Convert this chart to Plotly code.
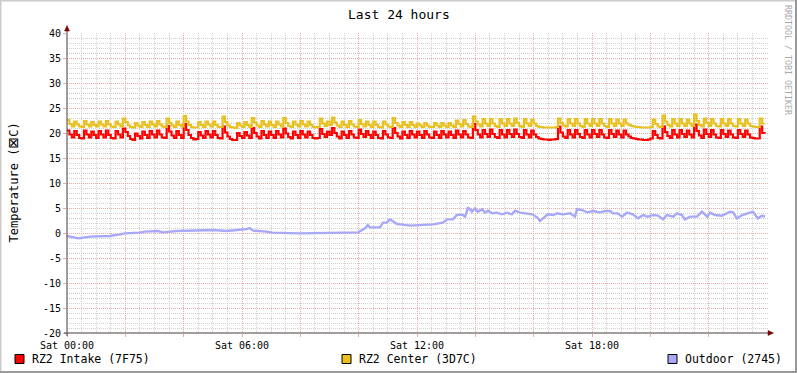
import plotly.graph_objects as go
import pandas as pd

# ---------------- data ----------------
day = "2024-01-06"  # a Saturday
series_names = ["RZ2 Intake (7F75)", "RZ2 Center (3D7C)", "Outdoor (2745)"]
series_colors = ["#FF0000", "#E8C020", "#A8A8FA"]

# 5-minute samples, one row per hour (00..23)
intake = [
    20.5, 19.7, 19.1, 20.4, 19.6, 19.0, 18.9, 20.5, 19.7, 19.1, 20.3, 19.6,
    19.0, 20.4, 19.7, 19.1, 20.5, 19.6, 19.0, 18.9, 20.4, 19.7, 19.1, 20.9,
    20.2, 19.4, 18.8, 18.6, 19.9, 19.4, 18.9, 20.3, 19.6, 19.0, 20.4, 19.7,
    19.1, 20.5, 19.7, 19.1, 19.0, 21.4, 20.3, 19.5, 19.0, 20.4, 19.6, 19.0,
    21.8, 20.6, 19.6, 19.0, 18.7, 18.8, 20.2, 19.5, 19.0, 20.4, 19.7, 19.1,
    20.4, 19.6, 19.0, 18.9, 21.3, 20.1, 19.3, 18.8, 18.6, 18.6, 20.0, 19.4,
    19.0, 20.2, 19.5, 19.0, 21.0, 20.0, 19.3, 18.9, 20.4, 19.6, 19.0, 20.3,
    19.6, 19.0, 20.4, 19.7, 19.1, 20.9, 19.9, 19.2, 18.9, 20.3, 19.6, 19.0,
    20.4, 19.7, 19.1, 20.3, 19.6, 19.0, 18.9, 19.0, 20.8, 19.8, 19.2, 20.3,
    19.6, 21.0, 20.0, 19.3, 18.9, 20.3, 19.6, 19.0, 20.4, 19.7, 19.1, 19.0,
    20.7, 19.8, 19.2, 20.4, 19.6, 19.0, 20.3, 19.6, 19.0, 18.9, 20.4, 19.7,
    19.1, 19.0, 21.0, 20.0, 19.3, 18.9, 20.3, 19.6, 19.0, 20.4, 19.7, 19.1,
    20.3, 19.6, 19.0, 20.4, 19.7, 19.1, 19.0, 20.3, 19.6, 19.0, 20.4, 19.7,
    19.1, 20.3, 19.6, 19.0, 20.5, 19.7, 19.1, 20.4, 19.7, 19.1, 19.0, 21.8,
    20.6, 19.7, 19.1, 20.6, 19.8, 19.2, 20.7, 19.8, 19.2, 19.0, 20.6, 19.7,
    19.1, 20.6, 19.8, 19.2, 20.7, 19.8, 19.2, 19.0, 20.6, 19.7, 19.1, 20.5,
    19.7, 19.2, 18.9, 18.8, 18.7, 18.7, 18.6, 18.7, 18.7, 18.8, 21.3, 20.1,
    19.3, 19.0, 20.6, 19.7, 19.1, 20.6, 19.8, 19.2, 19.0, 20.6, 19.7, 19.1,
    20.6, 19.8, 19.2, 20.6, 19.7, 19.1, 19.0, 20.6, 19.8, 19.2, 20.5, 19.7,
    19.1, 20.5, 19.7, 19.3, 19.0, 18.9, 18.8, 18.7, 18.7, 18.6, 18.6, 18.7,
    18.9, 20.4, 19.6, 19.0, 18.9, 21.3, 20.2, 19.4, 19.0, 20.6, 19.7, 19.1,
    20.6, 19.8, 19.2, 20.5, 19.7, 19.1, 21.7, 20.4, 19.5, 19.0, 20.7, 19.8,
    19.2, 20.6, 19.7, 19.1, 19.0, 20.6, 19.8, 19.2, 20.5, 19.7, 19.1, 19.0,
    20.6, 19.8, 19.2, 20.5, 19.7, 19.1, 19.0, 18.9, 18.9, 21.3, 20.0, 19.9,
]

center = [
    22.6, 21.8, 21.3, 22.3, 21.7, 21.3, 21.2, 22.4, 21.7, 21.3, 22.2, 21.6,
    21.3, 22.3, 21.7, 21.3, 22.4, 21.7, 21.3, 21.2, 22.3, 21.7, 21.3, 22.9,
    22.2, 21.5, 21.2, 21.1, 22.0, 21.5, 21.2, 22.2, 21.6, 21.2, 22.3, 21.7,
    21.3, 22.4, 21.7, 21.3, 21.2, 22.9, 22.0, 21.5, 21.2, 22.3, 21.6, 21.3,
    23.4, 22.3, 21.6, 21.2, 21.1, 21.1, 22.2, 21.6, 21.2, 22.3, 21.7, 21.3,
    22.3, 21.6, 21.2, 21.2, 23.3, 22.2, 21.5, 21.2, 21.1, 21.0, 22.0, 21.5,
    21.2, 22.2, 21.6, 21.2, 23.0, 22.1, 21.5, 21.2, 22.4, 21.7, 21.3, 22.3,
    21.6, 21.2, 22.3, 21.7, 21.3, 23.0, 22.0, 21.4, 21.2, 22.3, 21.7, 21.3,
    22.4, 21.7, 21.3, 22.3, 21.6, 21.2, 21.1, 21.2, 22.9, 21.9, 21.4, 22.3,
    21.6, 23.1, 22.1, 21.5, 21.2, 22.3, 21.6, 21.2, 22.4, 21.7, 21.3, 21.2,
    22.6, 21.8, 21.3, 22.3, 21.6, 21.2, 22.3, 21.6, 21.2, 21.1, 22.3, 21.7,
    21.3, 21.2, 23.0, 22.0, 21.5, 21.2, 22.2, 21.6, 21.2, 22.2, 21.6, 21.2,
    21.9, 21.5, 21.2, 22.0, 21.5, 21.2, 21.2, 22.0, 21.5, 21.2, 22.0, 21.5,
    21.2, 22.0, 21.5, 21.2, 22.5, 21.8, 21.3, 22.6, 21.8, 21.3, 21.2, 23.3,
    22.3, 21.7, 21.3, 22.8, 21.9, 21.4, 22.8, 21.9, 21.4, 21.2, 22.8, 21.9,
    21.4, 22.8, 21.9, 21.4, 22.9, 22.0, 21.4, 21.2, 22.8, 21.9, 21.4, 22.7,
    21.9, 21.4, 21.2, 21.2, 21.1, 21.1, 21.1, 21.1, 21.1, 21.2, 22.9, 22.0,
    21.5, 21.3, 22.8, 21.9, 21.4, 22.8, 21.9, 21.4, 21.2, 22.8, 21.9, 21.4,
    22.8, 21.9, 21.4, 22.8, 21.9, 21.4, 21.2, 22.8, 21.9, 21.4, 22.7, 21.9,
    21.4, 22.7, 21.9, 21.6, 21.4, 21.3, 21.2, 21.2, 21.1, 21.1, 21.1, 21.1,
    21.2, 22.7, 21.8, 21.3, 21.2, 23.5, 22.3, 21.6, 21.3, 22.8, 21.9, 21.4,
    22.8, 21.9, 21.4, 22.7, 21.9, 21.4, 23.7, 22.4, 21.6, 21.3, 22.9, 22.0,
    21.4, 22.8, 21.9, 21.4, 21.3, 22.8, 21.9, 21.4, 22.8, 21.9, 21.4, 21.3,
    22.8, 21.9, 21.4, 22.7, 21.9, 21.4, 21.3, 21.2, 21.2, 22.9, 21.9, 21.9,
]

outdoor_time = [
    "00:00", "00:23", "00:47", "01:28", "01:49", "01:59", "02:30", "02:40", "03:07", "03:17",
    "03:46", "04:27", "05:00", "05:29", "05:56", "06:10", "06:16", "06:23", "06:51", "07:02",
    "07:59", "09:07", "09:48", "09:59", "10:13", "10:19", "10:23", "10:44", "10:50", "10:58",
    "11:04", "11:11", "11:19", "11:25", "11:46", "12:33", "12:53", "13:02", "13:14", "13:22",
    "13:33", "13:39", "13:45", "13:53", "13:59", "14:05", "14:14", "14:20", "14:26", "14:34",
    "14:44", "14:55", "15:05", "15:15", "15:22", "15:32", "15:42", "15:57", "16:07", "16:13",
    "16:19", "16:29", "16:40", "16:48", "17:00", "17:15", "17:25", "17:29", "17:39", "17:50",
    "18:02", "18:16", "18:27", "18:37", "18:43", "18:53", "19:02", "19:12", "19:24", "19:35",
    "19:45", "19:55", "20:05", "20:16", "20:26", "20:34", "20:47", "20:55", "21:05", "21:11",
    "21:22", "21:36", "21:46", "21:57", "22:03", "22:13", "22:27", "22:44", "22:50", "22:58",
    "23:09", "23:19", "23:31", "23:41", "23:50", "23:56",
]
outdoor = [
    -0.6, -1.07, -0.73, -0.6, -0.27, -0.07, 0.07, 0.27, 0.4, 0.13,
    0.4, 0.47, 0.6, 0.4, 0.6, 0.8, 1.0, 0.47, 0.27, 0.07,
    -0.07, 0.07, 0.07, 0.13, 0.93, 1.6, 1.13, 1.13, 2.07, 2.07,
    2.73, 2.27, 1.8, 1.73, 1.47, 1.73, 2.07, 2.73, 2.73, 3.6,
    3.67, 3.27, 5.13, 4.27, 4.93, 4.27, 4.73, 4.07, 4.47, 3.93,
    4.07, 3.73, 4.07, 3.73, 4.47, 4.07, 3.93, 3.73, 3.13, 2.4,
    2.93, 3.73, 3.6, 3.93, 3.73, 3.93, 3.27, 4.73, 4.6, 4.13,
    4.4, 4.13, 4.4, 4.4, 3.93, 3.93, 3.27, 4.07, 3.73, 2.93,
    3.6, 3.27, 3.6, 3.47, 2.73, 3.6, 3.27, 3.93, 3.6, 2.73,
    3.27, 3.27, 4.27, 3.27, 4.07, 3.6, 3.47, 4.27, 4.13, 2.93,
    3.6, 3.93, 4.27, 2.93, 3.47, 3.27,
]

x_major_hours = [0, 2, 4, 6, 8, 10, 12, 14, 16, 18, 20, 22]
x_tick_labels = ["Sat 00:00", "", "", "Sat 06:00", "", "", "Sat 12:00", "", "", "Sat 18:00", "", ""]
y_tick_vals = [-20, -15, -10, -5, 0, 5, 10, 15, 20, 25, 30, 35, 40]
y_tick_labels = ["-20", "-15", "-10", "-5", "0", "5", "10", "15", "20", "25", "30", "35", "40"]

title_text = "Last 24 hours"
y_title = "Temperature (<span style='font-family:DejaVu Sans;font-size:14px'>\u22a0</span>C)"
watermark = "RRDTOOL / TOBI OETIKER"

# ---------------- figure ----------------
W, H = 797, 373
L, R, T, B = 67, 768, 33, 333  # plot area in pixels
FONT = "DejaVu Sans Mono"


def px(x):
    return (x - L) / (R - L)


def py(y):
    return (B - y) / (B - T)


t0 = pd.Timestamp(day)
t_5min = pd.date_range(t0, periods=len(intake), freq="5min")
t_out = [pd.Timestamp(f"{day} {s}") for s in outdoor_time]

fig = go.Figure()
fig.add_trace(go.Scatter(x=t_5min, y=intake, mode="lines", line=dict(color=series_colors[0], width=2.2, shape="hv"),
                         name=series_names[0], showlegend=False))
fig.add_trace(go.Scatter(x=t_5min, y=center, mode="lines", line=dict(color=series_colors[1], width=2.2, shape="hv"),
                         name=series_names[1], showlegend=False))
fig.add_trace(go.Scatter(x=t_out, y=outdoor, mode="lines", line=dict(color=series_colors[2], width=2.4),
                         name=series_names[2], showlegend=False))

major_grid = "#EBA8A8"
minor_grid = "#CFCFCF"
axis_col = "#4a3c3c"
arrow_col = "#7F0000"

fig.update_layout(
    width=W, height=H, autosize=False,
    margin=dict(l=L, r=W - R, t=T, b=H - B, pad=0),
    paper_bgcolor="white", plot_bgcolor="white",
    font=dict(family=FONT, size=10, color="black"),
    xaxis=dict(
        type="date",
        range=[t0, t0 + pd.Timedelta(hours=24, minutes=2)],
        tickmode="array",
        tickvals=[t0 + pd.Timedelta(hours=h) for h in x_major_hours],
        ticktext=x_tick_labels,
        showgrid=True, gridcolor=major_grid, griddash="1px,1px", gridwidth=1,
        ticks="outside", ticklen=3, tickcolor=major_grid, tickwidth=1,
        minor=dict(tickmode="linear", tick0=t0, dtick=30 * 60 * 1000, showgrid=True,
                   gridcolor=minor_grid, griddash="1px,1px", gridwidth=1, ticks=""),
        zeroline=False, showline=False,
        tickfont=dict(family=FONT, size=10, color="black"),
        fixedrange=True,
    ),
    yaxis=dict(
        range=[-20, 40],
        tickmode="array", tickvals=y_tick_vals, ticktext=y_tick_labels,
        showgrid=True, gridcolor=major_grid, griddash="1px,1px", gridwidth=1,
        ticks="outside", ticklen=3, tickcolor=major_grid, tickwidth=1,
        minor=dict(tickmode="linear", tick0=0, dtick=1, showgrid=True,
                   gridcolor=minor_grid, griddash="1px,1px", gridwidth=1, ticks=""),
        zeroline=False, showline=False,
        tickfont=dict(family=FONT, size=10, color="black"),
        fixedrange=True,
    ),
)

shapes = []
# axis lines (extend slightly beyond plot area like rrdtool)
shapes.append(dict(type="line", xref="paper", yref="paper", x0=px(64), x1=px(770), y0=0, y1=0,
                   line=dict(color=axis_col, width=1)))
shapes.append(dict(type="line", xref="paper", yref="paper", x0=0, x1=0, y0=py(336), y1=py(28),
                   line=dict(color=axis_col, width=1)))
# arrows
shapes.append(dict(type="path", xref="paper", yref="paper",
                   path=f"M {px(768)},{py(330.5)} L {px(773.5)},{py(333)} L {px(768)},{py(335.5)} Z",
                   fillcolor=arrow_col, line=dict(color=arrow_col, width=0.5)))
shapes.append(dict(type="path", xref="paper", yref="paper",
                   path=f"M {px(64.5)},{py(31)} L {px(67)},{py(25.5)} L {px(69.5)},{py(31)} Z",
                   fillcolor=arrow_col, line=dict(color=arrow_col, width=0.5)))
# frame shading
shapes.append(dict(type="line", xref="paper", yref="paper", x0=px(0), x1=px(W), y0=py(0.5), y1=py(0.5),
                   line=dict(color="#CBCBCB", width=2)))
shapes.append(dict(type="line", xref="paper", yref="paper", x0=px(0.5), x1=px(0.5), y0=py(0), y1=py(H),
                   line=dict(color="#CBCBCB", width=2)))
shapes.append(dict(type="line", xref="paper", yref="paper", x0=px(0), x1=px(W), y0=py(H - 1), y1=py(H - 1),
                   line=dict(color="#999999", width=2)))
shapes.append(dict(type="line", xref="paper", yref="paper", x0=px(W - 1), x1=px(W - 1), y0=py(0), y1=py(H),
                   line=dict(color="#999999", width=2)))

# legend squares + texts
legend_sq_x = [15, 342, 668]
annotations = []
for name, col, sx in zip(series_names, series_colors, legend_sq_x):
    shapes.append(dict(type="rect", xref="paper", yref="paper",
                       x0=px(sx), x1=px(sx + 9), y0=py(354.5), y1=py(363.5),
                       fillcolor=col, line=dict(color="black", width=1)))
    annotations.append(dict(text=name, xref="paper", yref="paper", x=px(sx + 14.5), y=py(359),
                            xanchor="left", yanchor="middle", showarrow=False,
                            font=dict(family=FONT, size=11.5, color="black")))

annotations.append(dict(text=title_text, xref="paper", yref="paper", x=px(398.5), y=py(14),
                        xanchor="center", yanchor="middle", showarrow=False,
                        font=dict(family=FONT, size=13, color="black")))
annotations.append(dict(text=y_title, xref="paper", yref="paper", x=px(12), y=py(182.5),
                        xanchor="center", yanchor="middle", showarrow=False, textangle=-90,
                        font=dict(family=FONT, size=12, color="black")))
annotations.append(dict(text=watermark, xref="paper", yref="paper", x=px(788), y=py(60),
                        xanchor="center", yanchor="middle", showarrow=False, textangle=90,
                        font=dict(family=FONT, size=8.3, color="#AAAAAA")))

fig.update_layout(shapes=shapes, annotations=annotations)
fig.write_html("out.html", config={"displayModeBar": False},
               post_script="document.body.style.margin='0';document.body.style.padding='0';")
